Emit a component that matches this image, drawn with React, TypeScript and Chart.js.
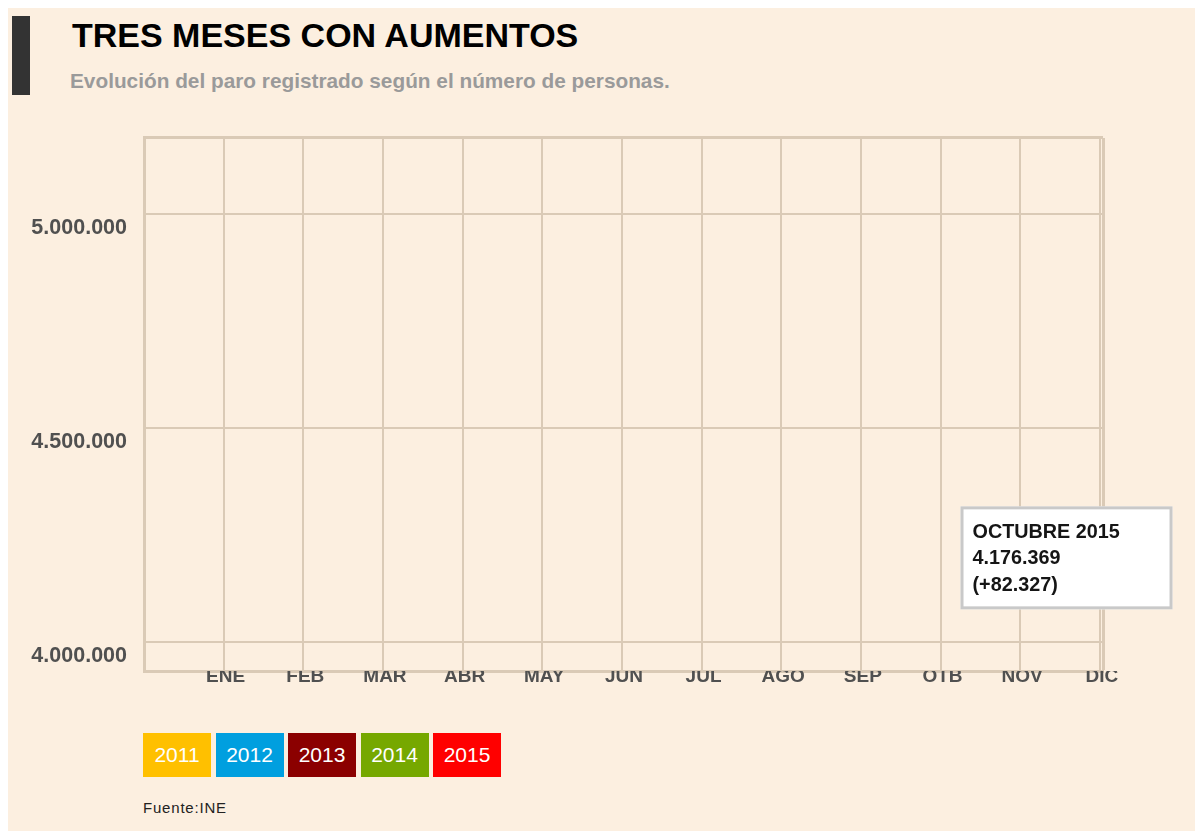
import React, { useEffect, useRef } from 'react';
import { Chart, registerables } from 'chart.js';

Chart.register(...registerables);

// ---- data ----
const MONTHS = ['ENE', 'FEB', 'MAR', 'ABR', 'MAY', 'JUN', 'JUL', 'AGO', 'SEP', 'OTB', 'NOV', 'DIC'];
const MONTH_NUMBERS = [1, 2, 3, 4, 5, 6, 7, 8, 9, 10, 11, 12];
const YEARS = ['2011', '2012', '2013', '2014', '2015'];
// The reference shows no drawn lines: the series carry no visible values.
const SERIES_2011: number[] = [];
const SERIES_2012: number[] = [];
const SERIES_2013: number[] = [];
const SERIES_2014: number[] = [];
const SERIES_2015: number[] = [];
const SERIES = [SERIES_2011, SERIES_2012, SERIES_2013, SERIES_2014, SERIES_2015];
const Y_TICKS = [4000000, 4500000, 5000000];
const Y_MIN = 3932000;
const Y_MAX = 5177000;
const X_MIN = 0;
const X_MAX = 12.04;
const TIP_MONTH = 10;
const TIP_TITLE = 'OCTUBRE 2015';
const TIP_VALUE = 4176369;
const TIP_CHANGE = 82327;

// ---- styles ----
const YEAR_COLORS = ['#FFC000', '#009FDF', '#8B0000', '#76A800', '#FF0000'];
const FONT = '"Liberation Sans", Arial, Helvetica, sans-serif';
const GRID = '#DACAB6';
const LABEL = '#505050';

const fmt = (n: number) => Math.abs(Math.round(n)).toString().replace(/\B(?=(\d{3})+(?!\d))/g, '.');

const tipPlugin = {
  id: 'staticTip',
  afterDraw(chart: any) {
    const { ctx } = chart;
    const x = chart.scales.x;
    const y = chart.scales.y;
    const px = x.getPixelForValue(TIP_MONTH);
    const py = y.getPixelForValue(TIP_VALUE);
    const bx = px + 20;
    const by = py - 60;
    const bw = 212;
    const bh = 103;
    ctx.save();
    ctx.fillStyle = '#ffffff';
    ctx.fillRect(bx, by, bw, bh);
    ctx.strokeStyle = '#C9C9C9';
    ctx.lineWidth = 3;
    ctx.strokeRect(bx + 1.5, by + 1.5, bw - 3, bh - 3);
    ctx.fillStyle = '#151515';
    ctx.font = `bold 19.8px ${FONT}`;
    ctx.textBaseline = 'middle';
    ctx.textAlign = 'left';
    const lines = [TIP_TITLE, fmt(TIP_VALUE), `(${TIP_CHANGE >= 0 ? '+' : '-'}${fmt(TIP_CHANGE)})`];
    lines.forEach((t, i) => ctx.fillText(t, bx + 12, by + 26 + i * 26.5));
    ctx.restore();
  },
};

export default function App() {
  const ref = useRef<HTMLCanvasElement | null>(null);

  useEffect(() => {
    if (!ref.current) return;
    const chart = new Chart(ref.current, {
      type: 'line',
      data: {
        datasets: YEARS.map((yr, i) => ({
          label: yr,
          data: SERIES[i].map((v, j) => ({ x: MONTH_NUMBERS[j], y: v })),
          borderColor: YEAR_COLORS[i],
          backgroundColor: YEAR_COLORS[i],
          borderWidth: 3,
          pointRadius: 0,
        })),
      },
      options: {
        animation: false,
        responsive: false,
        layout: { padding: { top: 29, right: 93, bottom: 0, left: 0 } },
        plugins: { legend: { display: false }, tooltip: { enabled: false } },
        scales: {
          x: {
            type: 'linear',
            bounds: 'data',
            min: X_MIN,
            max: X_MAX,
            afterBuildTicks: (s: any) => {
              s.ticks = [0, ...MONTH_NUMBERS, X_MAX].map((value) => ({ value }));
            },
            afterFit: (s: any) => {
              s.height = 37;
            },
            ticks: {
              autoSkip: false,
              maxRotation: 0,
              padding: -6,
              labelOffset: 2,
              color: LABEL,
              font: { family: FONT, size: 19, weight: 'bold' },
              callback: (v: any) => {
                const n = Number(v);
                const idx = MONTH_NUMBERS.indexOf(n);
                return idx >= 0 ? MONTHS[idx] : '';
              },
            },
            grid: {
              color: GRID,
              lineWidth: (c: any) => (c.tick && c.tick.value === X_MAX ? 3 : 2),
              drawTicks: false,
            },
            border: { color: GRID, width: 3 },
          },
          y: {
            type: 'linear',
            bounds: 'data',
            min: Y_MIN,
            max: Y_MAX,
            afterBuildTicks: (s: any) => {
              s.ticks = [Y_MIN, ...Y_TICKS, Y_MAX].map((value) => ({ value }));
            },
            afterFit: (s: any) => {
              s.width = 128;
            },
            ticks: {
              autoSkip: false,
              padding: 17,
              labelOffset: 14,
              color: LABEL,
              font: { family: FONT, size: 21.5, weight: 'bold' },
              callback: (v: any) => (Y_TICKS.includes(Number(v)) ? fmt(Number(v)) : ''),
            },
            grid: {
              color: GRID,
              lineWidth: (c: any) => (c.tick && c.tick.value === Y_MAX ? 3 : 2),
              drawTicks: false,
            },
            border: { color: GRID, width: 3 },
          },
        },
      },
      plugins: [tipPlugin],
    } as any);
    return () => chart.destroy();
  }, []);

  return (
    <div
      style={{
        position: 'relative',
        width: 1195,
        height: 823,
        background: '#FCEFE0',
        overflow: 'hidden',
        fontFamily: FONT,
      }}
    >
      <div style={{ position: 'absolute', left: 4, top: 8, width: 18, height: 79, background: '#333333' }} />
      <div
        style={{
          position: 'absolute',
          left: 64,
          top: 10,
          fontSize: 34,
          lineHeight: '34px',
          fontWeight: 'bold',
          color: '#000',
          whiteSpace: 'nowrap',
        }}
      >
        TRES MESES CON AUMENTOS
      </div>
      <div
        style={{
          position: 'absolute',
          left: 62,
          top: 63,
          fontSize: 20.8,
          lineHeight: '20px',
          fontWeight: 'bold',
          color: '#9A9A9A',
          whiteSpace: 'nowrap',
        }}
      >
        Evolución del paro registrado según el número de personas.
      </div>
      <canvas
        ref={ref}
        width={1180}
        height={600}
        style={{ position: 'absolute', left: 8, top: 100, width: 1180, height: 600 }}
      />
      <div style={{ position: 'absolute', left: 135, top: 725, display: 'flex', gap: 4.5 }}>
        {YEARS.map((yr, i) => (
          <div
            key={yr}
            style={{
              width: 68,
              height: 44,
              lineHeight: '44px',
              textAlign: 'center',
              background: YEAR_COLORS[i],
              color: '#fff',
              fontSize: 21,
            }}
          >
            {yr}
          </div>
        ))}
      </div>
      <div
        style={{
          position: 'absolute',
          left: 135,
          top: 792,
          fontSize: 15,
          lineHeight: '16px',
          color: '#222',
          whiteSpace: 'nowrap',
          letterSpacing: 0.8,
        }}
      >
        Fuente:INE
      </div>
    </div>
  );
}
